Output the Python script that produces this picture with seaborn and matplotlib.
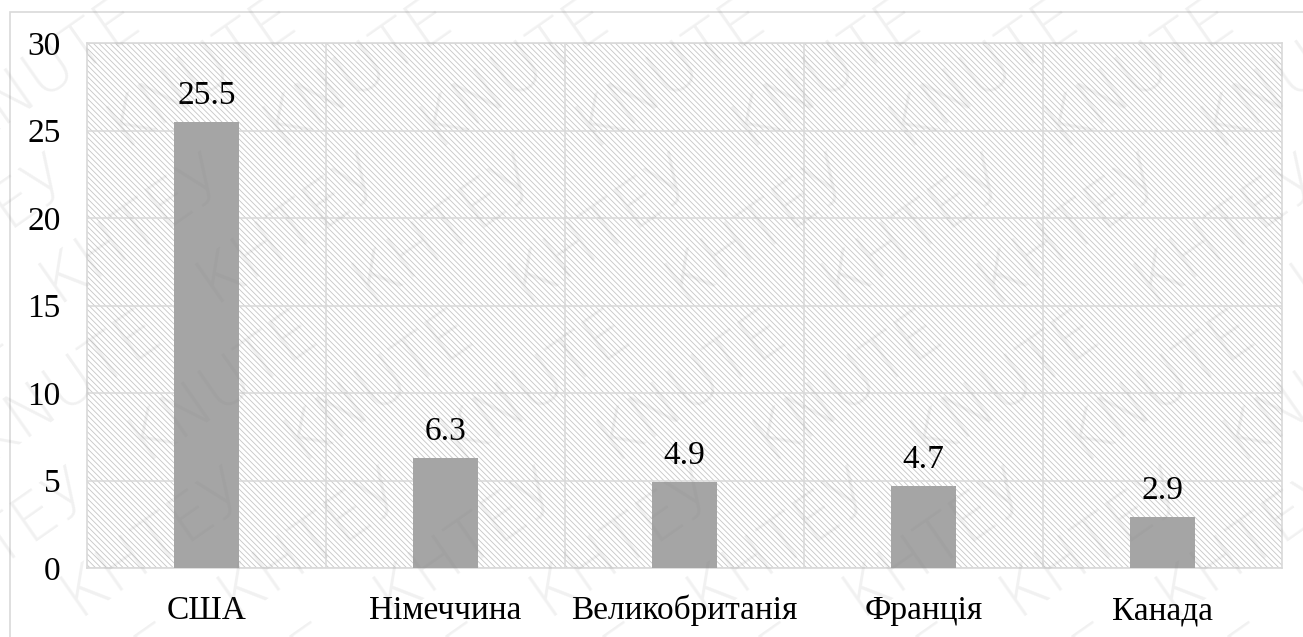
import matplotlib
matplotlib.use("Agg")
import matplotlib.pyplot as plt
import seaborn as sns
from matplotlib.patches import Rectangle

# data
countries = ["США", "Німеччина", "Великобританія", "Франція", "Канада"]
values = [25.5, 6.3, 4.9, 4.7, 2.9]
y_ticks = [0, 5, 10, 15, 20, 25, 30]
watermark_words = ["KNUTE", "КНТЕУ"]

sns.set_theme(style="white")
plt.rcParams["font.family"] = ["Liberation Serif", "DejaVu Serif"]
plt.rcParams["hatch.linewidth"] = 0.6

W, H = 1303, 637
fs = 24
fig = plt.figure(figsize=(W / 100, H / 100), dpi=100)
fig.patch.set_facecolor("white")

# outer chart-area border (cut off on the right and bottom in the reference)
fig.patches.append(Rectangle((10 / W, -0.1), 1.2, (H - 12) / H + 0.1,
                             transform=fig.transFigure, fill=False,
                             edgecolor="#d9d9d9", lw=1.2, zorder=0))

ax = fig.add_axes([87 / W, (H - 568) / H, (1282 - 87) / W, (568 - 43) / H])

# hatched plot background
ax.add_patch(Rectangle((0, 0), 1, 1, transform=ax.transAxes, facecolor="white",
                       edgecolor="#c6c6c6", hatch="\\" * 6, lw=0, zorder=0))

sns.barplot(x=countries, y=values, color="#a5a5a5", width=0.27,
            saturation=1, linewidth=0, ax=ax, zorder=3)

ax.set_ylim(0, 30)
ax.set_xlim(-0.5, len(countries) - 0.5)
ax.set_yticks(y_ticks)
ax.set_yticklabels([str(t) for t in y_ticks])
ax.set_xticks(range(len(countries)))
ax.set_xticklabels(countries)
ax.set_xticks([i + 0.5 for i in range(len(countries) - 1)], minor=True)

ax.grid(axis="y", which="major", color="#d9d9d9", lw=1.1, zorder=1)
ax.grid(axis="x", which="minor", color="#d9d9d9", lw=1.1, zorder=1)
ax.grid(axis="x", which="major", visible=False)
ax.set_axisbelow(True)
for s in ax.spines.values():
    s.set_color("#d9d9d9")
    s.set_linewidth(1.2)

ax.tick_params(axis="y", length=0, pad=19, labelsize=fs, labelcolor="black")
ax.tick_params(axis="x", which="both", length=0, pad=37, labelsize=fs,
               labelcolor="black")
for lbl in ax.get_xticklabels():
    lbl.set_va("baseline")
ax.set_xlabel("")
ax.set_ylabel("")

for i, v in enumerate(values):
    ax.annotate(f"{v}", (i, v), xytext=(0, 13), textcoords="offset points",
                ha="center", va="baseline", fontsize=fs, color="black")

# faint diagonal watermark
line = "   ".join(watermark_words * 12)
for k in range(-14, 14):
    fig.text(0.12 * k, -0.2, line, rotation=35, rotation_mode="anchor",
             ha="left", va="center", fontsize=46, family="DejaVu Sans",
             fontweight="light", color="#808080", alpha=0.11, zorder=10)

fig.savefig("out.png", dpi=100)
